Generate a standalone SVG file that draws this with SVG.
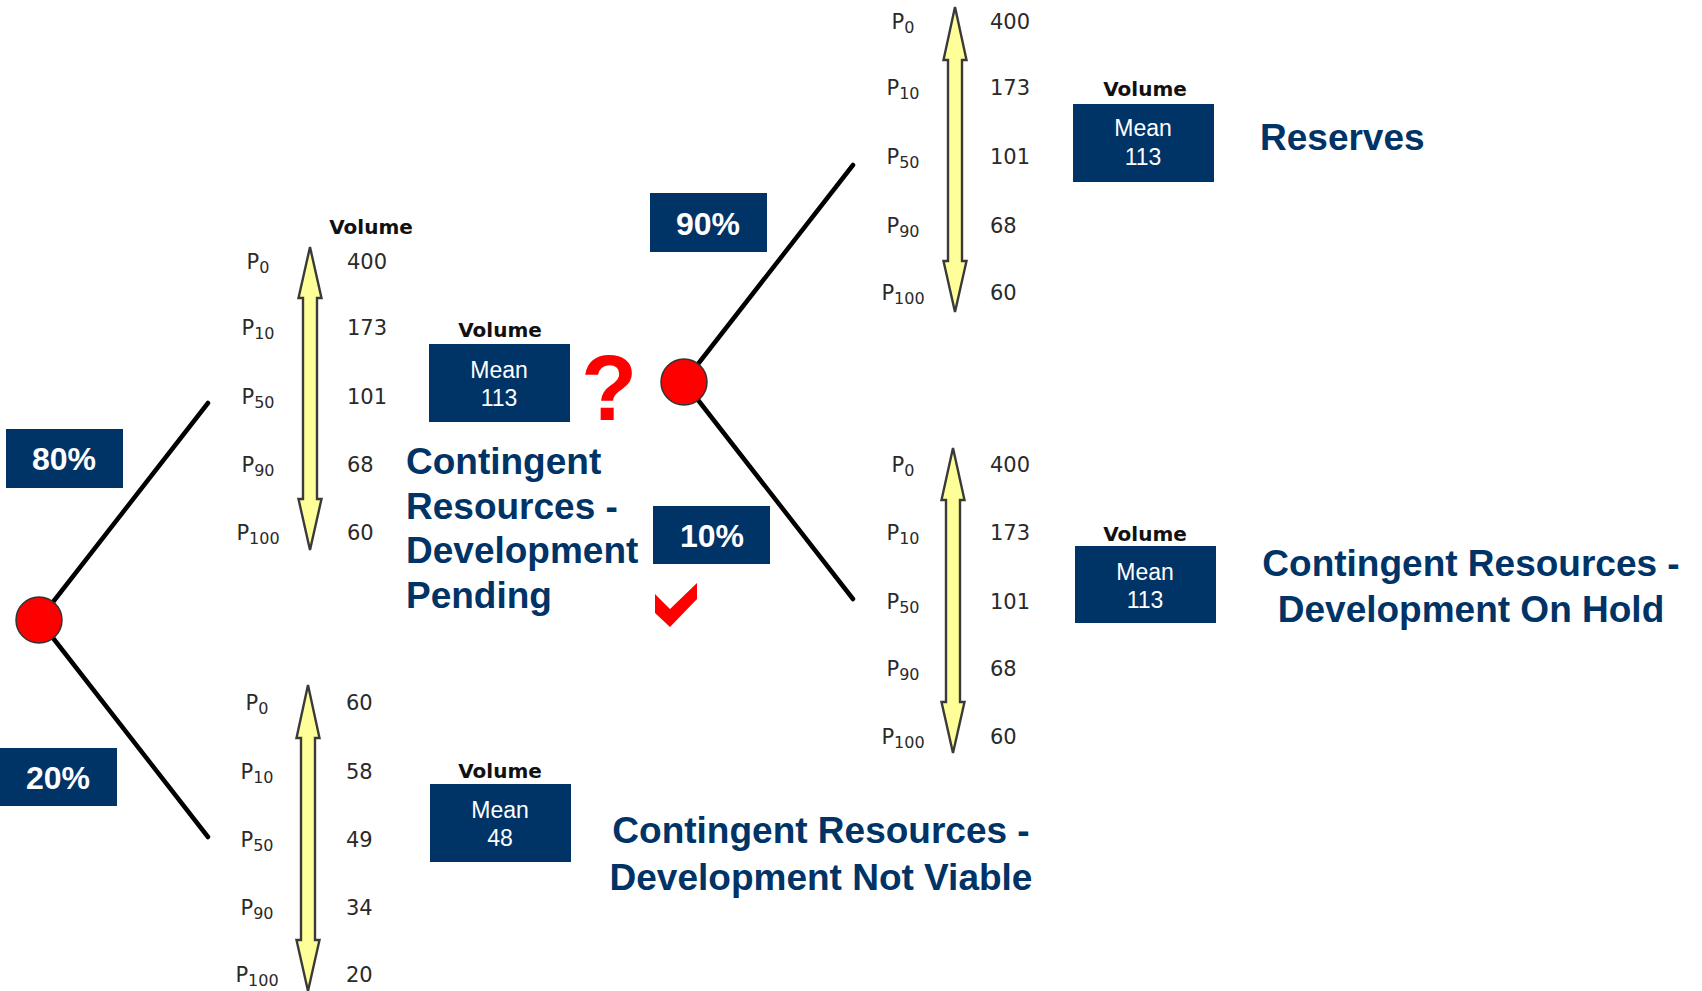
<svg xmlns="http://www.w3.org/2000/svg" width="1702" height="991" viewBox="0 0 1702 991">
<style>
.pl{font-family:"DejaVu Sans",Verdana,sans-serif;font-size:21px;fill:#2a2a2a;text-anchor:middle}
.pl tspan.s{font-size:16px}
.vl{font-family:"DejaVu Sans",Verdana,sans-serif;font-size:21px;fill:#2a2a2a}
.vh{font-family:"DejaVu Sans",Verdana,sans-serif;font-size:20px;font-weight:bold;fill:#111;text-anchor:middle}
.box{fill:#003366}
.mt{font-family:"Liberation Sans",Arial,sans-serif;font-size:23px;fill:#fff;text-anchor:middle}
.pct{font-family:"Liberation Sans",Arial,sans-serif;font-size:32px;font-weight:bold;fill:#fff;text-anchor:middle}
.ttl{font-family:"Liberation Sans",Arial,sans-serif;font-size:37px;font-weight:bold;fill:#003366}
.arr{fill:#ffff99;stroke:#3a3a3a;stroke-width:2.4;stroke-linejoin:miter}
.br{stroke:#000;stroke-width:4.5;stroke-linecap:round}
.ch{fill:#ff0000;stroke:#333;stroke-width:1.5}
</style>

<g id="connectors">
<line class="br" x1="39" y1="620" x2="208" y2="403"/>
<line class="br" x1="39" y1="620" x2="208" y2="837"/>
<line class="br" x1="684" y1="382" x2="853" y2="165"/>
<line class="br" x1="684" y1="382" x2="853" y2="599"/>
</g>

<g id="chance1"><circle class="ch" cx="39" cy="620" r="23"/></g>
<g id="chance2"><circle class="ch" cx="684" cy="382" r="23"/></g>

<g id="pct80"><rect class="box" x="6" y="429" width="117" height="59"/><text class="pct" x="64" y="470">80%</text></g>
<g id="pct20"><rect class="box" x="0" y="748" width="117" height="58"/><text class="pct" x="58" y="789">20%</text></g>
<g id="pct90"><rect class="box" x="650" y="193" width="117" height="59"/><text class="pct" x="708" y="235">90%</text></g>
<g id="pct10"><rect class="box" x="653" y="506" width="117" height="58"/><text class="pct" x="712" y="547">10%</text></g>

<!-- Pending distribution -->
<g id="dist-pending">
<text class="vh" x="371" y="234">Volume</text>
<path class="arr" d="M310,247 L321.5,298 L317,298 L317,499 L321.5,499 L310,550 L298.5,499 L303,499 L303,298 L298.5,298 Z"/>
<text class="pl" x="258" y="269">P<tspan class="s" dy="4">0</tspan></text>
<text class="pl" x="258" y="335">P<tspan class="s" dy="4">10</tspan></text>
<text class="pl" x="258" y="404">P<tspan class="s" dy="4">50</tspan></text>
<text class="pl" x="258" y="472">P<tspan class="s" dy="4">90</tspan></text>
<text class="pl" x="258" y="540">P<tspan class="s" dy="4">100</tspan></text>
<text class="vl" x="347" y="269">400</text>
<text class="vl" x="347" y="335">173</text>
<text class="vl" x="347" y="404">101</text>
<text class="vl" x="347" y="472">68</text>
<text class="vl" x="347" y="540">60</text>
</g>

<g id="mean-pending">
<text class="vh" x="500" y="337">Volume</text>
<rect class="box" x="429" y="344" width="141" height="78"/>
<text class="mt" x="499" y="378">Mean</text>
<text class="mt" x="499" y="406">113</text>
</g>

<g id="question"><text x="609" y="420" font-family="Liberation Sans, Arial, sans-serif" font-size="92" font-weight="bold" fill="#ff0000" text-anchor="middle">?</text></g>
<g id="check"><polygon points="655,594 670,609 697,583 697,599 670,627 655,613" fill="#ff0000"/></g>

<g id="title-pending">
<text class="ttl" x="406" y="474">Contingent</text>
<text class="ttl" x="406" y="519">Resources -</text>
<text class="ttl" x="406" y="563">Development</text>
<text class="ttl" x="406" y="608">Pending</text>
</g>

<!-- Not viable distribution -->
<g id="dist-notviable">
<path class="arr" d="M308,685 L319.5,738 L315,738 L315,940 L319.5,940 L308,991 L296.5,940 L301,940 L301,738 L296.5,738 Z"/>
<text class="pl" x="257" y="710">P<tspan class="s" dy="4">0</tspan></text>
<text class="pl" x="257" y="779">P<tspan class="s" dy="4">10</tspan></text>
<text class="pl" x="257" y="847">P<tspan class="s" dy="4">50</tspan></text>
<text class="pl" x="257" y="915">P<tspan class="s" dy="4">90</tspan></text>
<text class="pl" x="257" y="982">P<tspan class="s" dy="4">100</tspan></text>
<text class="vl" x="346" y="710">60</text>
<text class="vl" x="346" y="779">58</text>
<text class="vl" x="346" y="847">49</text>
<text class="vl" x="346" y="915">34</text>
<text class="vl" x="346" y="982">20</text>
</g>

<g id="mean-notviable">
<text class="vh" x="500" y="778">Volume</text>
<rect class="box" x="430" y="784" width="141" height="78"/>
<text class="mt" x="500" y="818">Mean</text>
<text class="mt" x="500" y="846">48</text>
</g>

<g id="title-notviable">
<text class="ttl" x="821" y="843" text-anchor="middle">Contingent Resources -</text>
<text class="ttl" x="821" y="890" text-anchor="middle">Development Not Viable</text>
</g>

<!-- Reserves distribution -->
<g id="dist-reserves">
<path class="arr" d="M955,7 L966.5,60 L962,60 L962,261 L966.5,261 L955,312 L943.5,261 L948,261 L948,60 L943.5,60 Z"/>
<text class="pl" x="903" y="29">P<tspan class="s" dy="4">0</tspan></text>
<text class="pl" x="903" y="95">P<tspan class="s" dy="4">10</tspan></text>
<text class="pl" x="903" y="164">P<tspan class="s" dy="4">50</tspan></text>
<text class="pl" x="903" y="233">P<tspan class="s" dy="4">90</tspan></text>
<text class="pl" x="903" y="300">P<tspan class="s" dy="4">100</tspan></text>
<text class="vl" x="990" y="29">400</text>
<text class="vl" x="990" y="95">173</text>
<text class="vl" x="990" y="164">101</text>
<text class="vl" x="990" y="233">68</text>
<text class="vl" x="990" y="300">60</text>
</g>

<g id="mean-reserves">
<text class="vh" x="1145" y="96">Volume</text>
<rect class="box" x="1073" y="104" width="141" height="78"/>
<text class="mt" x="1143" y="136">Mean</text>
<text class="mt" x="1143" y="165">113</text>
</g>

<g id="title-reserves"><text class="ttl" x="1260" y="150">Reserves</text></g>

<!-- On hold distribution -->
<g id="dist-onhold">
<path class="arr" d="M953,448 L964.5,500 L960,500 L960,702 L964.5,702 L953,753 L941.5,702 L946,702 L946,500 L941.5,500 Z"/>
<text class="pl" x="903" y="472">P<tspan class="s" dy="4">0</tspan></text>
<text class="pl" x="903" y="540">P<tspan class="s" dy="4">10</tspan></text>
<text class="pl" x="903" y="609">P<tspan class="s" dy="4">50</tspan></text>
<text class="pl" x="903" y="676">P<tspan class="s" dy="4">90</tspan></text>
<text class="pl" x="903" y="744">P<tspan class="s" dy="4">100</tspan></text>
<text class="vl" x="990" y="472">400</text>
<text class="vl" x="990" y="540">173</text>
<text class="vl" x="990" y="609">101</text>
<text class="vl" x="990" y="676">68</text>
<text class="vl" x="990" y="744">60</text>
</g>

<g id="mean-onhold">
<text class="vh" x="1145" y="541">Volume</text>
<rect class="box" x="1075" y="546" width="141" height="77"/>
<text class="mt" x="1145" y="580">Mean</text>
<text class="mt" x="1145" y="608">113</text>
</g>

<g id="title-onhold">
<text class="ttl" x="1471" y="576" text-anchor="middle">Contingent Resources -</text>
<text class="ttl" x="1471" y="622" text-anchor="middle">Development On Hold</text>
</g>
</svg>
